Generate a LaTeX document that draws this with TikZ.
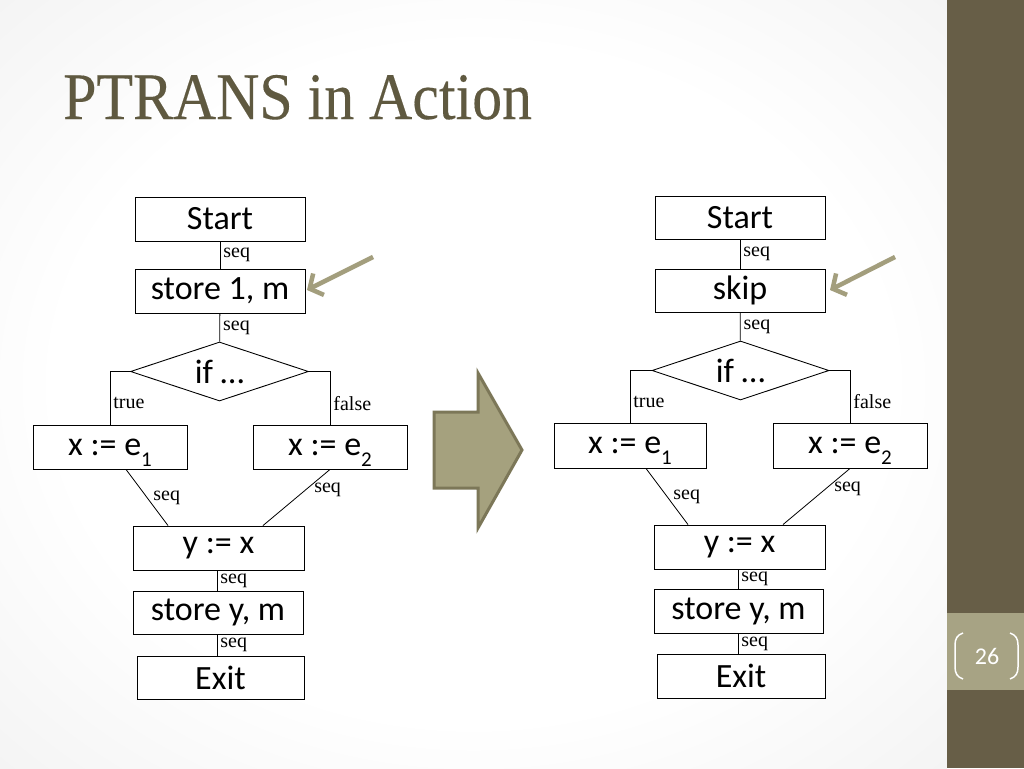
\documentclass[tikz,border=0pt]{standalone}
\usepackage{fontspec}
\setmainfont{Carlito}
\newfontfamily\serifl{Liberation Serif}
\newfontfamily\titlefont[FakeStretch=0.9,FakeBold=0.2]{Liberation Serif}
\usetikzlibrary{shapes.geometric,arrows.meta,calc}
\definecolor{strip}{HTML}{675E47}
\definecolor{numbox}{HTML}{A7A384}
\definecolor{titlec}{HTML}{5F5940}
\definecolor{bigfill}{HTML}{A5A17E}
\definecolor{bigdraw}{HTML}{7C7758}
\definecolor{hint}{HTML}{A39E7D}
\newcommand\lowsub[1]{\raisebox{-0.33em}[0pt][0pt]{\fontsize{21}{21}\selectfont #1}}
\pgfdeclareradialshading{bgsh}{\pgfpoint{0bp}{0bp}}{color(0bp)=(white); color(22bp)=(white); color(50bp)=(black!9); color(72bp)=(black!14)}
\begin{document}
\begin{tikzpicture}[x=1pt,y=-1pt,
  box/.style={draw=black,line width=0.9pt,fill=white,inner sep=0pt,
    font=\fontsize{34}{37}\selectfont,minimum height=44pt},
  cond/.style={diamond,aspect=3,draw=black,line width=0.9pt,fill=white,inner sep=0pt,
    font=\fontsize{34}{37}\selectfont,minimum width=178pt,minimum height=59pt},
  lbl/.style={font=\serifl\fontsize{20}{22}\selectfont,inner sep=3pt},
  conn/.style={line width=0.8pt},
  hintarrow/.style={draw=hint,line width=4.5pt,-{Straight Barb[length=10pt,width=24pt]}}]
\useasboundingbox (0,0) rectangle (1024,768);
% background
\shade[shading=bgsh] (0,0) rectangle (947,768);
\fill[strip] (947,0) rectangle (1024,768);
\fill[numbox] (947,613) rectangle (1024,690);
\node[text=white,font=\fontsize{24}{26}\selectfont] (pg) at (987,656) {26};
\draw[white,line width=1.5pt] (963,633) .. controls (957,635) and (955,639) .. (955,645) -- (955,667) .. controls (955,673) and (957,677) .. (963,679);
\draw[white,line width=1.5pt] (1010,633) .. controls (1016,635) and (1018,639) .. (1018,645) -- (1018,667) .. controls (1018,673) and (1016,677) .. (1010,679);
% title
\node[anchor=base west,inner sep=0pt,text=titlec,font=\titlefont\fontsize{66.5}{70}\selectfont] (title) at (63,119) {PTRANS in Action};

% ---------- left flow ----------
\node[box,minimum width=170pt] (s1) at (220,219) {Start};
\node[box,minimum width=170pt] (m1) at (220,291) {store 1, m};
\node[cond] (c1) at (219.5,371.5) {if …};
\node[box,minimum width=154pt] (a1) at (110,447) {x := e\lowsub{1}};
\node[box,minimum width=154pt] (b1) at (330,447) {x := e\lowsub{2}};
\node[box,minimum width=171pt] (y1) at (218.5,548) {y := x};
\node[box,minimum width=170pt,minimum height=43pt] (w1) at (218,612.5) {store y, m};
\node[box,minimum width=167pt,minimum height=43pt] (e1) at (220.5,677.5) {Exit};
\coordinate (lc1) at (217,0);
\draw[conn] (s1) -- node[lbl,right]{seq} (m1);
\draw[conn] (m1) -- node[lbl,right]{seq} (c1);
\draw[conn] (c1.west) -| node[lbl,right,pos=0.8]{true} (a1.north);
\draw[conn] (c1.east) -| node[lbl,right,pos=0.8]{false} (b1.north);
\draw[conn] ($(a1.south)+(16,0)$) -- node[lbl,anchor=west,xshift=3pt]{seq} ($(y1.north)+(-50.5,0)$);
\draw[conn] (b1.south) -- node[lbl,anchor=west,pos=0.36,xshift=5pt]{seq} ($(y1.north)+(44.5,0)$);
\draw[conn] (y1.south -| lc1) -- node[lbl,right]{seq} (w1.north -| lc1);
\draw[conn] (w1.south -| lc1) -- node[lbl,right]{seq} (e1.north -| lc1);
\coordinate (h1s) at (373,257);
\coordinate (h1e) at (307,290);
\draw[hintarrow] (h1s) -- (h1e);

% ---------- big arrow ----------
\draw[fill=bigfill,draw=bigdraw,line width=3pt] (434,412) -- (478,412) -- (478,373) -- (522,450) -- (478,528) -- (478,488) -- (434,488) -- cycle;

% ---------- right flow ----------
\node[box,minimum width=170pt,minimum height=43pt] (s2) at (740,217.5) {Start};
\node[box,minimum width=170pt,minimum height=43pt] (m2) at (740,290.5) {skip};
\node[cond,minimum width=177pt] (c2) at (740.5,370.5) {if …};
\node[box,minimum width=152pt,minimum height=45pt] (a2) at (630,445.5) {x := e\lowsub{1}};
\node[box,minimum width=154pt,minimum height=45pt] (b2) at (850,445.5) {x := e\lowsub{2}};
\node[box,minimum width=171pt] (y2) at (739.5,547) {y := x};
\node[box,minimum width=169pt] (w2) at (738.5,611) {store y, m};
\node[box,minimum width=168pt] (e2) at (741,676) {Exit};
\coordinate (lc2) at (738,0);
\draw[conn] (s2) -- node[lbl,right]{seq} (m2);
\draw[conn] (m2) -- node[lbl,right]{seq} (c2);
\draw[conn] (c2.west) -| node[lbl,right,pos=0.8]{true} (a2.north);
\draw[conn] (c2.east) -| node[lbl,right,pos=0.8]{false} (b2.north);
\draw[conn] ($(a2.south)+(16,0)$) -- node[lbl,anchor=west,xshift=3pt]{seq} ($(y2.north)+(-51.5,0)$);
\draw[conn] (b2.south) -- node[lbl,anchor=west,pos=0.36,xshift=5pt]{seq} ($(y2.north)+(43.5,0)$);
\draw[conn] (y2.south -| lc2) -- node[lbl,right]{seq} (w2.north -| lc2);
\draw[conn] (w2.south -| lc2) -- node[lbl,right]{seq} (e2.north -| lc2);
\coordinate (h2s) at (895,257);
\coordinate (h2e) at (830,290);
\draw[hintarrow] (h2s) -- (h2e);
\end{tikzpicture}
\end{document}
